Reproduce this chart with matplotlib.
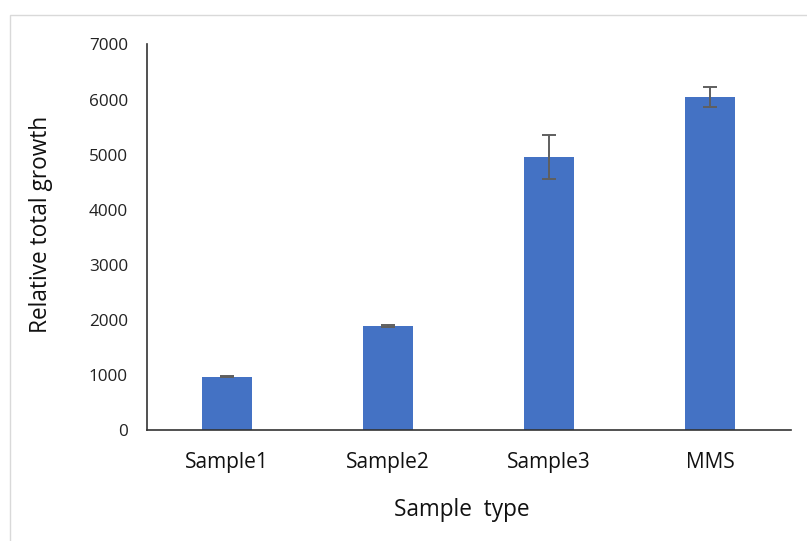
import matplotlib

matplotlib.use("Agg")
import matplotlib.pyplot as plt
from matplotlib.patches import Rectangle

# data
categories = ["Sample1", "Sample2", "Sample3", "MMS"]
growth = [968, 1889, 4952, 6040]
growth_err = [8, 15, 396, 183]

plt.rcParams.update({
    "font.family": ["Open Sans", "DejaVu Sans"],
    "axes.linewidth": 1.2,
})

W, H = 807, 541
fig = plt.figure(figsize=(W / 100, H / 100), dpi=100)
ax = fig.add_axes([146.7 / W, 1 - 430 / H, (790.7 - 146.7) / W, (430 - 44.5) / H])

# light frame of the chart area (only top/left visible in the crop)
fig.add_artist(Rectangle((9.5 / W, -0.1), 1.2, 1 - 15 / H + 0.1, transform=fig.transFigure,
                         fill=False, edgecolor="#d9d9d9", lw=1.0))

x = range(len(categories))
ax.bar(x, growth, width=0.31, color="#4472C4", zorder=2)
ax.errorbar(x, growth, yerr=growth_err, fmt="none", ecolor="#5f5f5f",
            elinewidth=1.4, capsize=5, capthick=1.4, zorder=3)

ax.set_xlim(-0.5, len(categories) - 0.5)
ax.set_ylim(0, 7000)
ax.set_yticks(range(0, 7001, 1000))
ax.set_xticks(list(x))
ax.set_xticklabels(categories, fontsize=15, color="#111111")
ax.tick_params(axis="y", length=0, pad=13.5, labelsize=12.3, labelcolor="#222222")
ax.tick_params(axis="x", length=0, pad=16)

for side in ("top", "right"):
    ax.spines[side].set_visible(False)
for side in ("left", "bottom"):
    ax.spines[side].set_color("#333333")

ax.set_ylabel("Relative total growth", fontsize=16.3, color="#111111", labelpad=26)
ax.yaxis.label.set_y(0.534)
ax.set_xlabel("Sample  type", fontsize=16.3, color="#111111", labelpad=18)
ax.xaxis.label.set_x(0.489)

fig.savefig("out.png", dpi=100)
